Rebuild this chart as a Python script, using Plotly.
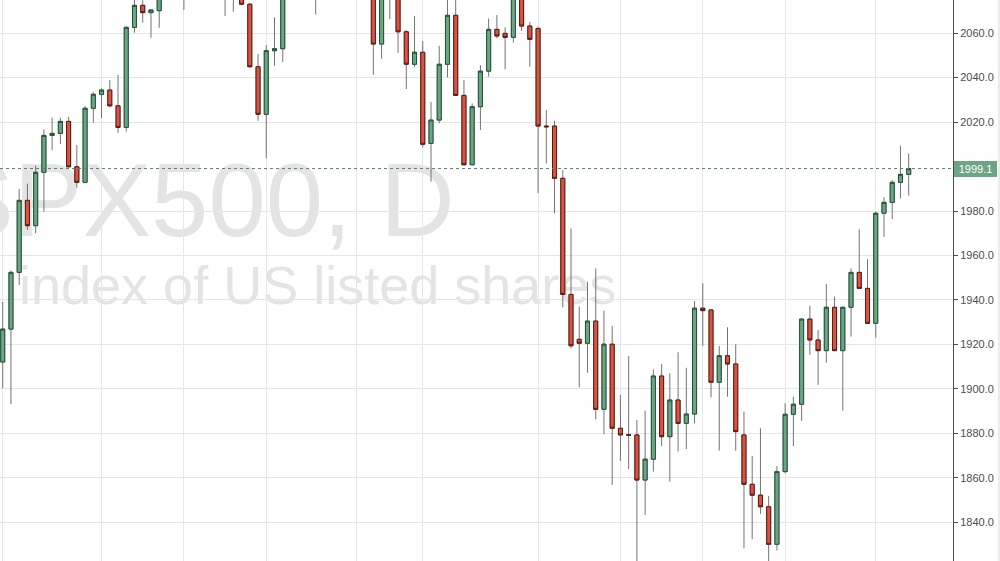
import plotly.graph_objects as go

# ---- data ----
days = list(range(111))

opens = [1912.1, 1926.9, 1952.4, 1984.8, 1973.4, 1997.4, 2014.0, 2014.9, 2020.3, 1999.9,
         1992.9, 2026.2, 2032.5, 2034.4, 2027.3, 2017.6, 2062.6, 2072.5, 2069.2, 2070.1,
         2079.5, 2085.0, 2089.0, 2081.0, 2094.0, 2099.0, 2102.0, 2091.0, 2083.0, 2089.0,
         2073.0, 2044.9, 2023.5, 2052.1, 2053.0, 2077.0, 2084.0, 2089.0, 2083.0, 2080.0,
         2092.0, 2100.0, 2091.0, 2094.0, 2089.0, 2082.0, 2055.1, 2076.0, 2080.0, 2060.6,
         2046.0, 2051.4, 2010.4, 2020.9, 2046.0, 2068.0, 2032.0, 2000.8, 2026.9, 2042.9,
         2061.7, 2059.9, 2058.1, 2078.0, 2063.2, 2062.1, 2018.2, 2018.2, 1994.7, 1942.5,
         1922.3, 1920.5, 1930.5, 1890.8, 1920.1, 1882.3, 1879.4, 1879.3, 1859.0, 1868.4,
         1905.8, 1878.5, 1895.0, 1884.5, 1888.7, 1936.3, 1935.5, 1903.0, 1914.9, 1911.2,
         1879.3, 1857.1, 1852.2, 1847.0, 1830.1, 1862.8, 1888.6, 1893.1, 1931.4, 1922.0,
         1917.2, 1936.7, 1917.2, 1936.7, 1952.4, 1945.2, 1929.5, 1979.0, 1983.9, 1992.9,
         1996.5]

highs = [1939.1, 1953.3, 1989.9, 1992.3, 2000.4, 2016.7, 2022.0, 2022.0, 2022.4, 2009.7,
         2027.2, 2033.5, 2035.2, 2038.9, 2041.2, 2063.0, 2077.0, 2074.8, 2070.8, 2082.0,
         2088.0, 2093.0, 2095.0, 2096.0, 2101.0, 2106.0, 2105.0, 2094.0, 2092.0, 2091.0,
         2073.5, 2050.6, 2054.6, 2067.1, 2081.0, 2087.0, 2092.0, 2094.0, 2090.0, 2094.0,
         2103.0, 2104.0, 2097.0, 2099.0, 2093.0, 2085.0, 2079.0, 2084.0, 2083.0, 2061.5,
         2067.7, 2056.4, 2029.1, 2054.3, 2076.0, 2076.5, 2038.9, 2028.4, 2045.6, 2066.6,
         2068.1, 2062.6, 2081.0, 2081.0, 2065.1, 2063.0, 2025.4, 2020.6, 1998.4, 1972.2,
         1937.0, 1948.2, 1954.2, 1935.2, 1928.3, 1897.3, 1914.8, 1886.0, 1890.2, 1908.8,
         1911.2, 1907.0, 1916.5, 1909.5, 1939.5, 1947.5, 1935.6, 1919.3, 1927.7, 1920.1,
         1889.8, 1869.8, 1882.3, 1851.9, 1865.3, 1893.5, 1896.5, 1931.6, 1937.4, 1926.5,
         1947.2, 1941.5, 1936.9, 1954.2, 1971.8, 1958.3, 1979.7, 1986.2, 1993.9, 2009.4,
         2005.9]

lows = [1900.4, 1893.1, 1946.7, 1971.5, 1970.0, 1979.7, 2007.4, 2010.1, 1999.5, 1990.5,
        1992.5, 2019.7, 2021.7, 2026.6, 2015.2, 2015.7, 2060.2, 2064.7, 2057.9, 2062.4,
        2076.0, 2078.0, 2070.4, 2077.0, 2086.0, 2093.0, 2088.0, 2067.7, 2069.6, 2072.6,
        2044.4, 2020.6, 2003.7, 2045.3, 2047.1, 2075.5, 2079.0, 2080.0, 2068.4, 2077.0,
        2088.0, 2089.0, 2082.0, 2086.0, 2079.0, 2041.3, 2048.5, 2066.3, 2051.2, 2034.9,
        2044.9, 2008.6, 1993.2, 2019.4, 2040.1, 2031.8, 2000.4, 2000.6, 2016.4, 2040.4,
        2057.7, 2043.7, 2055.7, 2061.1, 2044.9, 1988.0, 2001.4, 1979.0, 1936.7, 1918.3,
        1900.7, 1907.3, 1886.3, 1879.6, 1856.8, 1867.6, 1864.0, 1812.0, 1843.3, 1862.8,
        1874.3, 1858.3, 1871.8, 1873.0, 1884.5, 1919.3, 1896.2, 1872.3, 1896.5, 1872.2,
        1828.3, 1832.4, 1843.8, 1812.0, 1827.3, 1862.0, 1874.3, 1885.6, 1915.3, 1901.8,
        1911.8, 1917.0, 1890.2, 1923.5, 1945.0, 1929.3, 1923.0, 1968.4, 1976.4, 1985.7,
        1986.9]

closes = [1926.9, 1952.4, 1984.8, 1973.4, 1997.4, 2014.0, 2014.9, 2020.3, 1999.9, 1992.9,
          2026.2, 2032.5, 2034.4, 2027.3, 2017.6, 2062.6, 2072.5, 2069.2, 2070.4, 2079.5,
          2085.0, 2089.0, 2081.0, 2094.0, 2099.0, 2102.0, 2091.0, 2083.0, 2088.0, 2073.0,
          2044.9, 2023.5, 2052.1, 2053.0, 2077.0, 2084.0, 2089.0, 2083.0, 2080.0, 2092.0,
          2100.0, 2091.0, 2094.0, 2089.0, 2082.0, 2055.1, 2076.0, 2080.0, 2060.6, 2046.0,
          2051.4, 2010.0, 2020.9, 2046.0, 2068.0, 2032.0, 2000.8, 2026.9, 2042.9, 2061.7,
          2058.7, 2058.1, 2078.0, 2063.2, 2057.2, 2018.2, 2017.9, 1994.7, 1942.5, 1919.4,
          1920.5, 1930.5, 1890.8, 1920.1, 1882.3, 1879.3, 1879.2, 1859.0, 1868.4, 1905.8,
          1878.5, 1895.0, 1884.5, 1888.7, 1936.3, 1935.2, 1903.0, 1914.9, 1911.2, 1880.8,
          1857.1, 1852.2, 1847.0, 1830.1, 1862.8, 1888.6, 1893.1, 1931.4, 1922.0, 1917.2,
          1936.7, 1917.2, 1936.7, 1952.4, 1945.2, 1929.5, 1979.0, 1983.9, 1992.9, 1996.5,
          1999.1]

y_ticks = [1840, 1860, 1880, 1900, 1920, 1940, 1960, 1980, 2020, 2040, 2060]
grid_days = [0, 12, 22, 32, 43, 51, 65, 75, 85, 95, 106]
last_price = closes[-1]
symbol_title = "SPX500, D"
symbol_desc = "index of US listed shares"

# ---- style ----
UP_FILL, UP_LINE = "#6BA583", "#225437"
DN_FILL, DN_LINE = "#D75442", "#5B1A13"
WICK = "#737375"
GRID = "#e6e6e6"
AXIS = "#4d4d4d"
WM = "#e4e4e4"
FONT = "Arial, Liberation Sans, sans-serif"

body_hi = [max(o, c) for o, c in zip(opens, closes)]
body_lo = [min(o, c) for o, c in zip(opens, closes)]

fig = go.Figure()
# wicks
fig.add_trace(go.Candlestick(
    x=days, open=opens, high=highs, low=lows, close=closes,
    increasing=dict(line=dict(color=WICK, width=1), fillcolor=UP_FILL),
    decreasing=dict(line=dict(color=WICK, width=1), fillcolor=DN_FILL),
    whiskerwidth=0, hoverinfo="skip", showlegend=False))
# bodies
fig.add_trace(go.Candlestick(
    x=days, open=opens, high=body_hi, low=body_lo, close=closes,
    increasing=dict(line=dict(color=UP_LINE, width=1), fillcolor=UP_FILL),
    decreasing=dict(line=dict(color=DN_LINE, width=1), fillcolor=DN_FILL),
    whiskerwidth=0, showlegend=False))

PLOT_W = 953.0
PLOT_H = 561.0


def px_x(p):
    return p / PLOT_W


def px_y(p):
    return 1 - p / PLOT_H


shapes = [
    # watermark title
    dict(type="rect", xref="paper", yref="paper", layer="below",
         x0=px_x(-58), x1=px_x(600), y0=px_y(230), y1=px_y(150),
         line=dict(width=0), fillcolor="rgba(0,0,0,0)",
         label=dict(text=symbol_title, textposition="middle left", padding=0,
                    font=dict(family=FONT, size=103, color=WM))),
    # watermark subtitle
    dict(type="rect", xref="paper", yref="paper", layer="below",
         x0=px_x(16), x1=px_x(700), y0=px_y(307), y1=px_y(253),
         line=dict(width=0), fillcolor="rgba(0,0,0,0)",
         label=dict(text=symbol_desc, textposition="middle left", padding=0,
                    font=dict(family=FONT, size=54, color=WM))),
    # last price dotted line
    dict(type="line", xref="paper", yref="y", x0=0, x1=1, y0=last_price, y1=last_price,
         line=dict(color="#4f8a6c", width=1, dash="dot"), layer="above"),
    # right panel border
    dict(type="line", xref="paper", yref="paper", x0=px_x(999), x1=px_x(999), y0=0, y1=1,
         line=dict(color="#d9d9d9", width=1)),
]

fig.update_layout(
    width=1000, height=561,
    margin=dict(l=0, r=47, t=0, b=0),
    paper_bgcolor="white", plot_bgcolor="white",
    showlegend=False, boxmode="overlay",
    font=dict(family=FONT),
    shapes=shapes,
    xaxis=dict(range=[-0.33, 115.38], tickvals=grid_days, showticklabels=False,
               showgrid=True, gridcolor=GRID, gridwidth=1, zeroline=False,
               showline=False, ticks="", rangeslider=dict(visible=False)),
    yaxis=dict(side="right", range=[1822.6, 2074.9], tickvals=y_ticks, tickformat=".1f",
               showgrid=True, gridcolor=GRID, gridwidth=1, zeroline=False,
               showline=True, linecolor=AXIS, linewidth=1,
               ticks="outside", ticklen=4, tickcolor=AXIS,
               tickfont=dict(family=FONT, size=11, color=AXIS)),
    annotations=[dict(x=1, xref="paper", y=last_price, yref="y",
                      xanchor="left", yanchor="middle", xshift=1,
                      text=f"{last_price:.1f}", showarrow=False,
                      bgcolor=UP_FILL, width=43, height=16,
                      borderpad=0, borderwidth=0,
                      font=dict(family=FONT, size=11, color="white"))],
)

fig.write_html("out.html",
               config={"displayModeBar": False},
               post_script="document.body.style.margin='0';document.body.style.padding='0';")
